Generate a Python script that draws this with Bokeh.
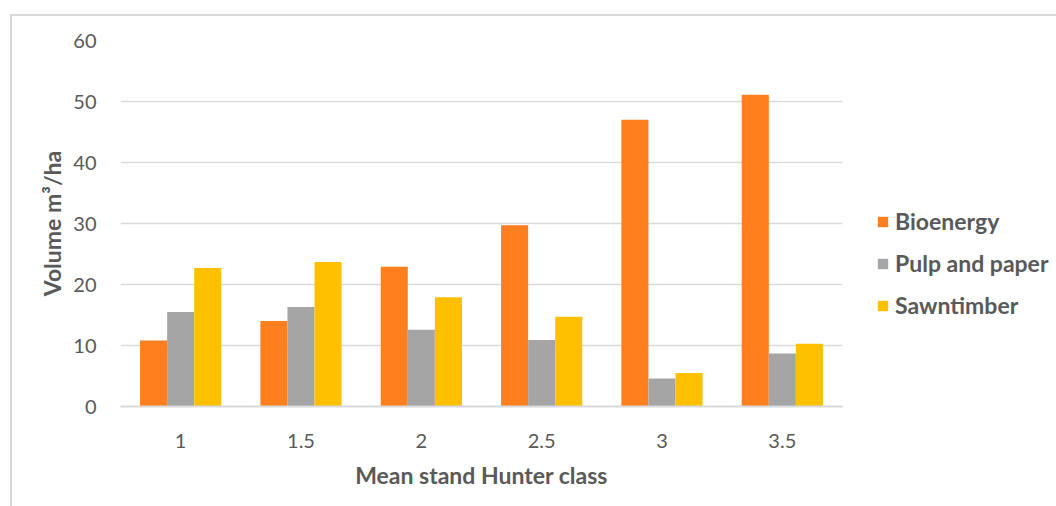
from bokeh.plotting import figure
from bokeh.models import Range1d, Legend, LegendItem, FixedTicker
from bokeh.transform import dodge
from bokeh.embed import file_html
from bokeh.resources import INLINE

# Harvested volume by product, per mean stand Hunter class
hunter_class = ["1", "1.5", "2", "2.5", "3", "3.5"]
bioenergy = [10.8, 14.0, 22.9, 29.7, 47.0, 51.1]
pulp_paper = [15.5, 16.3, 12.6, 10.9, 4.6, 8.7]
sawntimber = [22.7, 23.7, 17.9, 14.7, 5.5, 10.3]
series_names = ["Bioenergy", "Pulp and paper", "Sawntimber"]
y_ticks = [0, 10, 20, 30, 40, 50, 60]

colors = ["#FF7F1F", "#A5A5A5", "#FFC000"]
text_color = "#595959"
font = "Lato"

data = dict(x=hunter_class, bio=bioenergy, pulp=pulp_paper, saw=sawntimber)

p = figure(
    x_range=hunter_class,
    y_range=Range1d(0, 60),
    frame_width=722,
    frame_height=366,
    output_backend="svg",
    toolbar_location=None,
    min_border_left=108,
    min_border_top=24,
    min_border_right=214,
    min_border_bottom=100,
)
p.margin = (14, 0, 0, 10)
p.styles = {"border-top": "2px solid #d9d9d9", "border-left": "2px solid #d9d9d9"}
p.outline_line_color = None
p.x_range.range_padding = 0

bw = 0.225
renderers = []
for key, off, col in zip(["bio", "pulp", "saw"], [-bw, 0, bw], colors):
    r = p.vbar(x=dodge("x", off, range=p.x_range), top=key, width=bw,
               source=data, fill_color=col, line_color=None)
    renderers.append(r)

# grid and axes
p.xgrid.grid_line_color = None
p.ygrid.grid_line_color = "#d9d9d9"
p.ygrid.grid_line_width = 1.6
p.yaxis.ticker = FixedTicker(ticks=y_ticks)

for ax in (p.xaxis[0], p.yaxis[0]):
    ax.major_tick_line_color = None
    ax.minor_tick_line_color = None
    ax.major_label_text_font = font
    ax.major_label_text_font_size = "20px"
    ax.major_label_text_color = text_color
    ax.axis_label_text_font = font
    ax.axis_label_text_font_size = "23px"
    ax.axis_label_text_font_style = "bold"
    ax.axis_label_text_color = text_color

p.yaxis.axis_line_color = None
p.yaxis.major_label_standoff = 18
p.yaxis.axis_label = "Volume m³/ha"
p.yaxis.axis_label_standoff = 4

p.xaxis.axis_line_color = "#d9d9d9"
p.xaxis.axis_line_width = 2
p.xaxis.major_label_standoff = 21
p.xaxis.axis_label = "Mean stand Hunter class"
p.xaxis.axis_label_standoff = 10

legend = Legend(
    items=[LegendItem(label=n, renderers=[r]) for n, r in zip(series_names, renderers)],
    location=(34, 87),
    orientation="vertical",
    glyph_width=13,
    glyph_height=13,
    label_height=28,
    spacing=14,
    padding=0,
    margin=0,
    label_standoff=6,
    label_text_font=font,
    label_text_font_size="23px",
    label_text_font_style="bold",
    label_text_color=text_color,
    border_line_color=None,
    background_fill_alpha=0,
)
p.add_layout(legend, "right")

open("out.html", "w").write(file_html(p, INLINE))
